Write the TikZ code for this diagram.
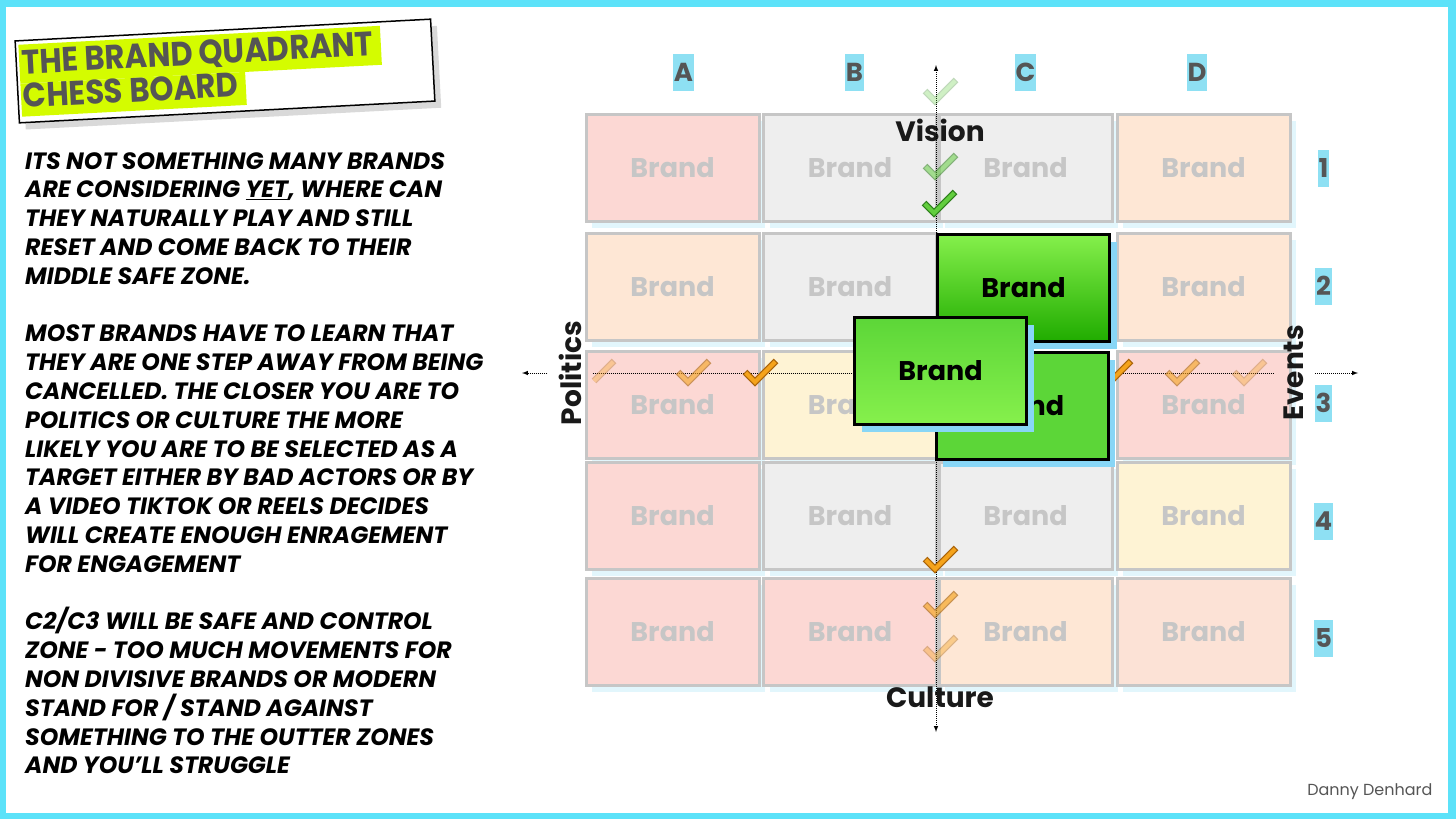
\documentclass[tikz,border=0pt]{standalone}
\usepackage{fontspec}
\setmainfont{Poppins}
\newfontfamily\titlefont[FakeStretch=0.9]{Poppins}
\usetikzlibrary{shadows}

\definecolor{framecyan}{RGB}{92,226,249}
\definecolor{labelhl}{RGB}{142,224,243}
\definecolor{titlehl}{RGB}{212,252,0}
\definecolor{inkgray}{RGB}{85,85,85}
\definecolor{brandgray}{RGB}{198,198,198}
\definecolor{cellpink}{RGB}{252,216,212}
\definecolor{cellpeach}{RGB}{254,231,213}
\definecolor{cellrose}{RGB}{252,226,214}
\definecolor{cellyellow}{RGB}{254,243,212}
\definecolor{cellgray}{RGB}{238,238,238}
\definecolor{cellshade}{RGB}{226,246,252}
\definecolor{boxshade}{RGB}{136,214,246}
\definecolor{greenlight}{RGB}{134,240,76}
\definecolor{greendark}{RGB}{32,172,0}
\definecolor{greenmid}{RGB}{92,214,56}
\definecolor{checkgreen}{RGB}{98,206,62}
\definecolor{checkgreenline}{RGB}{46,128,28}
\definecolor{checkorange}{RGB}{245,163,27}
\definecolor{checkorangeline}{RGB}{170,100,10}

\tikzset{
  cell/.style={draw=brandgray, line width=3pt, minimum width=173pt, minimum height=107pt,
    text=brandgray, font=\bfseries\fontsize{27}{27}\selectfont,
    drop shadow={shadow xshift=6pt, shadow yshift=-6pt, opacity=1, fill=cellshade}},
  greenbox/.style={draw=black, line width=3pt, minimum width=172pt, minimum height=107pt,
    text=black, font=\bfseries\fontsize{27}{27}\selectfont,
    drop shadow={shadow xshift=7pt, shadow yshift=-8pt, opacity=1, fill=boxshade}},
  axisline/.style={densely dotted, line width=1pt},
  axislabel/.style={text=black!90, font=\bfseries\fontsize{28}{28}\selectfont},
  gridlabel/.style={fill=labelhl, text=inkgray, font=\bfseries\fontsize{26}{26}\selectfont,
    inner xsep=1pt, inner ysep=0pt, minimum height=37pt},
  titletext/.style={text=inkgray, inner sep=0pt, align=left,
    font=\titlefont\bfseries\fontsize{34}{34}\selectfont},
  bodytext/.style={align=left, inner sep=0pt, font=\bfseries\itshape\fontsize{23.6}{28.8}\selectfont},
}

% check mark: x, y of the corner, colour, outline colour, opacity
\newcommand{\brandcheck}[5]{%
  \begin{scope}[transparency group, opacity=#5]
    \draw[#4, line width=6.5pt, line join=miter] ({#1-10},{#2-10}) -- (#1,#2) -- ({#1+21},{#2-21});
    \draw[#3, line width=4pt, line join=miter, shorten <=1.2pt, shorten >=1.2pt]
      ({#1-10},{#2-10}) -- (#1,#2) -- ({#1+21},{#2-21});
  \end{scope}}

\begin{document}
\begin{tikzpicture}
    \begin{scope}[x={(1pt,0pt)},y={(0pt,-1pt)}]
        \useasboundingbox (0,0) rectangle (1456,819);
        \fill[framecyan] (0,0) rectangle (1456,819);
        \fill[white] (6,7) rectangle (1448,813);

        % title card
        \begin{scope}[shift={(225,71)}, rotate=3, transform shape]
            \fill[black!15] (-202,-34) rectangle (214,48);
            \draw[fill=white, line width=1.5pt] (-208,-41) rectangle (208,41);
            \fill[titlehl] (-205,-37) rectangle (157,2);
            \fill[titlehl] (-205,2) rectangle (20,35);
            \node[titletext, anchor=north west] (titlelines) at (-203,-32) {THE BRAND QUADRANT\\CHESS BOARD};
        \end{scope}

        \node[bodytext, anchor=north west] (story) at (25,152) {%
            ITS NOT SOMETHING MANY BRANDS\\
            ARE CONSIDERING \underline{YET}, WHERE CAN\\
            THEY NATURALLY PLAY AND STILL\\
            RESET AND COME BACK TO THEIR\\
            MIDDLE SAFE ZONE.\\[28.8pt]
            MOST BRANDS HAVE TO LEARN THAT\\
            THEY ARE ONE STEP AWAY FROM BEING\\
            CANCELLED. THE CLOSER YOU ARE TO\\
            POLITICS OR CULTURE THE MORE\\
            LIKELY YOU ARE TO BE SELECTED AS A\\
            TARGET EITHER BY BAD ACTORS OR BY\\
            A VIDEO TIKTOK OR REELS DECIDES\\
            WILL CREATE ENOUGH ENRAGEMENT\\
            FOR ENGAGEMENT\\[28.8pt]
            C2/C3 WILL BE SAFE AND CONTROL\\
            ZONE - TOO MUCH MOVEMENTS FOR\\
            NON DIVISIVE BRANDS OR MODERN\\
            STAND FOR / STAND AGAINST\\
            SOMETHING TO THE OUTTER ZONES\\
            AND YOU’LL STRUGGLE};

        % column and row labels
        \node[gridlabel] (colA) at (683.5,72.5) {A};
        \node[gridlabel] (colB) at (854.5,72.5) {B};
        \node[gridlabel] (colC) at (1025.5,72.5) {C};
        \node[gridlabel] (colD) at (1197,72.5) {D};
        \node[gridlabel] (row1) at (1323.5,168) {1};
        \node[gridlabel] (row2) at (1323.5,286) {2};
        \node[gridlabel] (row3) at (1323.5,403) {3};
        \node[gridlabel] (row4) at (1323.5,521) {4};
        \node[gridlabel] (row5) at (1323.5,638) {5};

        % the board
        \node[cell, fill=cellpink] (A1) at (672.5,168) {Brand};
        \node[cell, fill=cellgray] (B1) at (850,168) {Brand};
        \node[cell, fill=cellgray] (C1) at (1025.5,168) {Brand};
        \node[cell, fill=cellpeach] (D1) at (1203.5,168) {Brand};
        \node[cell, fill=cellpeach] (A2) at (672.5,287) {Brand};
        \node[cell, fill=cellgray] (B2) at (850,287) {Brand};
        \node[cell, fill=cellpeach] (D2) at (1203.5,287) {Brand};
        \node[cell, fill=cellpink] (A3) at (672.5,405) {Brand};
        \node[cell, fill=cellyellow] (B3) at (850,405) {Brand};
        \node[cell, fill=cellpink] (D3) at (1203.5,405) {Brand};
        \node[cell, fill=cellpink] (A4) at (672.5,516) {Brand};
        \node[cell, fill=cellgray] (B4) at (850,516) {Brand};
        \node[cell, fill=cellgray] (C4) at (1025.5,516) {Brand};
        \node[cell, fill=cellyellow] (D4) at (1203.5,516) {Brand};
        \node[cell, fill=cellpink] (A5) at (672.5,632) {Brand};
        \node[cell, fill=cellpink] (B5) at (850,632) {Brand};
        \node[cell, fill=cellpeach] (C5) at (1025.5,632) {Brand};
        \node[cell, fill=cellrose] (D5) at (1203.5,632) {Brand};

        % axes
        \coordinate (visiontip) at (936,65);
        \coordinate (culturetip) at (936,732);
        \coordinate (politicstip) at (522,373);
        \coordinate (eventstip) at (1358,373);
        \node[axislabel] (vision) at (940,130) {Vision};
        \node[axislabel] (culture) at (940,697) {Culture};
        \node[axislabel, rotate=90, inner ysep=11pt] (politics) at (570,373) {Politics};
        \node[axislabel, rotate=90, inner ysep=11pt] (events) at (1294,373) {Events};
        \draw[axisline, latex-latex] (visiontip) -- (culturetip);
        \draw[axisline, -latex] (politics.north) -- (politicstip);
        \draw[axisline] (politics.south) -- (events.north);
        \draw[axisline, -latex] (events.south) -- (eventstip);

        % checks along the axes
        \brandcheck{935}{101}{checkgreen}{checkgreenline}{0.3}
        \brandcheck{935}{176}{checkgreen}{checkgreenline}{0.55}
        \brandcheck{934}{213}{checkgreen}{checkgreenline}{1}
        \begin{scope}[transparency group, opacity=0.35]
            \draw[checkorangeline, line width=6.5pt] (594,381) -- (614,361);
            \draw[checkorange, line width=4pt, shorten >=1.2pt] (594,381) -- (614,361);
        \end{scope}
        \brandcheck{688}{382}{checkorange}{checkorangeline}{0.6}
        \brandcheck{755}{382}{checkorange}{checkorangeline}{1}
        \brandcheck{1110}{382}{checkorange}{checkorangeline}{1}
        \brandcheck{1177}{382}{checkorange}{checkorangeline}{0.6}
        \brandcheck{1244}{382}{checkorange}{checkorangeline}{0.35}
        \brandcheck{935}{569}{checkorange}{checkorangeline}{1}
        \brandcheck{935}{614}{checkorange}{checkorangeline}{0.65}
        \brandcheck{935}{658}{checkorange}{checkorangeline}{0.4}

        % the brand moving about the centre
        \node[greenbox, top color=greenlight, bottom color=greendark] (safeC2) at (1023.5,287.5) {Brand};
        \node[greenbox, fill=greenmid] (safeC3) at (1022,405.5) {Brand};
        \node[greenbox, top color=greenmid, bottom color=greenlight] (moving) at (940.5,370.5) {Brand};

        \node[anchor=east, text=inkgray, font=\fontsize{16}{16}\selectfont] (credit) at (1436,792) {Danny Denhard};
    \end{scope}
\end{tikzpicture}
\end{document}
